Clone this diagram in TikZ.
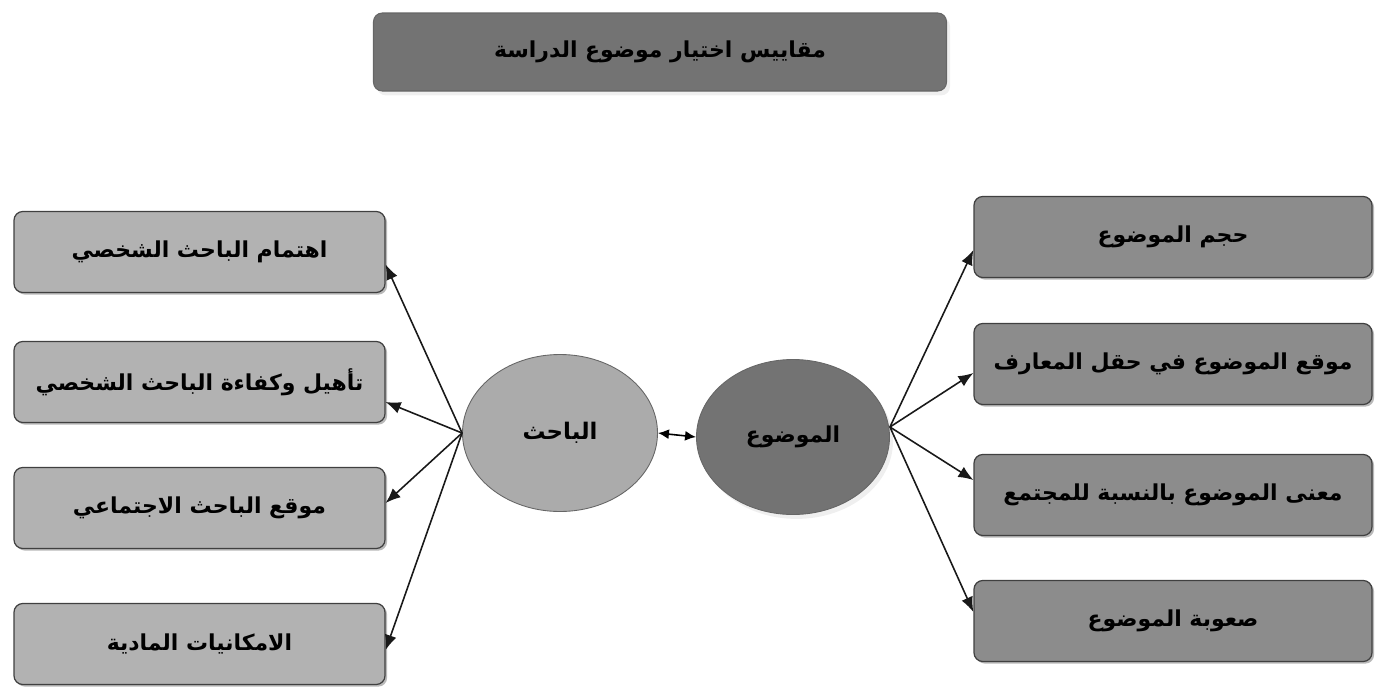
\documentclass[tikz,border=0pt]{standalone}
\usepackage{fontspec}
\newfontfamily\arabicfont[Script=Arabic]{DejaVu Sans}
\TeXXeTstate=1
\usetikzlibrary{arrows.meta,shapes.geometric,shadows}
\tikzset{
  bx/.style={rectangle,rounded corners=5pt,draw=black!75,line width=.7pt,
             minimum height=1.62cm,inner sep=2pt,
             font=\arabicfont\bfseries\fontsize{12.5}{14}\selectfont,
             drop shadow={shadow xshift=1.2pt,shadow yshift=-1.2pt,fill=black!55}},
  bxl/.style={bx,fill=black!30,minimum width=7.42cm},
  bxr/.style={bx,fill=black!45,minimum width=7.96cm},
  ttl/.style={rectangle,rounded corners=5pt,draw=black!60,fill=black!55,line width=.6pt,
              minimum width=11.46cm,minimum height=1.56cm,
              font=\arabicfont\bfseries\fontsize{12.5}{14}\selectfont,
              drop shadow={shadow xshift=2pt,shadow yshift=-2.5pt,fill=black!12}},
  elb/.style={ellipse,draw=black!60,fill=black!33,line width=.5pt,
              minimum width=3.9cm,minimum height=3.14cm,
              font=\arabicfont\bfseries\fontsize{13}{15}\selectfont},
  elm/.style={ellipse,draw=black!60,fill=black!55,line width=.5pt,
              minimum width=3.86cm,minimum height=3.1cm,
              font=\arabicfont\bfseries\fontsize{12.5}{14}\selectfont,
              drop shadow={shadow xshift=2pt,shadow yshift=-2.5pt,fill=black!12}},
  arr/.style={-{Latex[length=3mm,width=2.4mm]},line width=.9pt,draw=black!90},
  arrd/.style={{Latex[length=2.2mm,width=2mm]}-{Latex[length=2.2mm,width=2mm]},line width=.9pt},
}
\begin{document}
\begin{tikzpicture}
\useasboundingbox (0,0) rectangle (27.7,-13.76);
% title
\node[ttl] (ttl) at (13.2,-1.04) {\beginR مقاييس اختيار موضوع الدراسة\endR};
% the two centres
\node[elb] (bah) at (11.2,-8.66) {\beginR الباحث\endR};
\node[elm] (mwd) at (15.86,-8.74) {\beginR الموضوع\endR};
\draw[arrd] (bah.east) -- (mwd.west);
% researcher side
\node[bxl] (l1) at (3.99,-5.04) {\beginR اهتمام الباحث الشخصي\endR};
\node[bxl] (l2) at (3.99,-7.64) {\beginR تأهيل وكفاءة الباحث الشخصي\endR};
\node[bxl] (l3) at (3.99,-10.16) {\beginR موقع الباحث الاجتماعي\endR};
\node[bxl] (l4) at (3.99,-12.88) {\beginR الامكانيات المادية\endR};
\foreach \i/\dy in {1/-0.25,2/-0.4,3/0.1,4/-0.12}
  \draw[arr] (bah.west) -- ([yshift=\dy cm]l\i.east);
% topic side
\node[bxr] (r1) at (23.46,-4.74) {\beginR حجم الموضوع\endR};
\node[bxr] (r2) at (23.46,-7.28) {\beginR موقع الموضوع في حقل المعارف\endR};
\node[bxr] (r3) at (23.46,-9.9) {\beginR معنى الموضوع بالنسبة للمجتمع\endR};
\node[bxr] (r4) at (23.46,-12.42) {\beginR صعوبة الموضوع\endR};
\foreach \i/\dy in {1/-0.26,2/-0.18,3/0.3,4/0.18}
  \draw[arr] ([yshift=0.2cm]mwd.east) -- ([yshift=\dy cm]r\i.west);
\end{tikzpicture}
\end{document}
